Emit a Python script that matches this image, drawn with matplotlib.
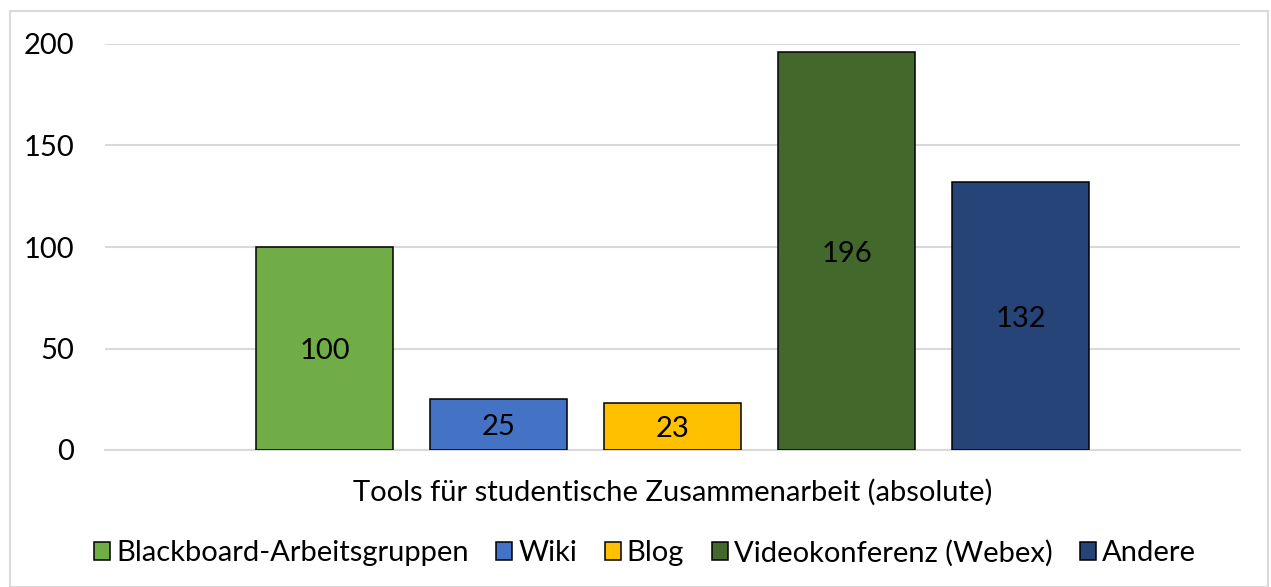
import matplotlib.pyplot as plt
from matplotlib.patches import Rectangle

# data
tools = ['Blackboard-Arbeitsgruppen', 'Wiki', 'Blog', 'Videokonferenz (Webex)', 'Andere']
counts = [100, 25, 23, 196, 132]
colors = ['#70AD47', '#4472C4', '#FFC000', '#43682B', '#264478']
yticks = [0, 50, 100, 150, 200]
xlabel = 'Tools für studentische Zusammenarbeit (absolute)'

plt.rcParams['font.family'] = ['Lato', 'DejaVu Sans']
fs = 21

fig = plt.figure(figsize=(12.71, 5.87), dpi=100)
ax = fig.add_axes([105 / 1271, 1 - 450 / 587, 1135 / 1271, 406 / 587])

# chart border
fig.patches.append(Rectangle((10 / 1271, 0), 1258 / 1271, 1 - 11 / 587,
                             transform=fig.transFigure, fill=False,
                             edgecolor='#D9D9D9', linewidth=1.5))

x = list(range(len(tools)))
for i in x:
    ax.bar(i, counts[i], width=137 / 174, color=colors[i],
           edgecolor='black', linewidth=1.1, label=tools[i], zorder=3)
    ax.text(i, counts[i] / 2, str(counts[i]), ha='center', va='center_baseline',
            fontsize=fs, color='black', zorder=4)

ax.set_xlim(-1.261, 5.261)
ax.set_ylim(0, 200)
ax.set_yticks(yticks)
ax.set_xticks([])
ax.tick_params(axis='y', length=0, pad=22, labelsize=fs)
ax.grid(axis='y', color='#D9D9D9', linewidth=1.5, zorder=0)
for s in ['top', 'right', 'left']:
    ax.spines[s].set_visible(False)
ax.spines['bottom'].set_color('#D9D9D9')
ax.spines['bottom'].set_linewidth(1.5)

ax.set_xlabel(xlabel, fontsize=fs, va='center')
ax.xaxis.set_label_coords(0.5, -42 / 406)

fig.legend(loc='center', bbox_to_anchor=(645 / 1271, 1 - 553 / 587), ncol=5,
           frameon=False, fontsize=fs, handlelength=0.55, handleheight=0.55,
           handletextpad=0.2, columnspacing=0.95)

fig.savefig('out.png', dpi=100)
